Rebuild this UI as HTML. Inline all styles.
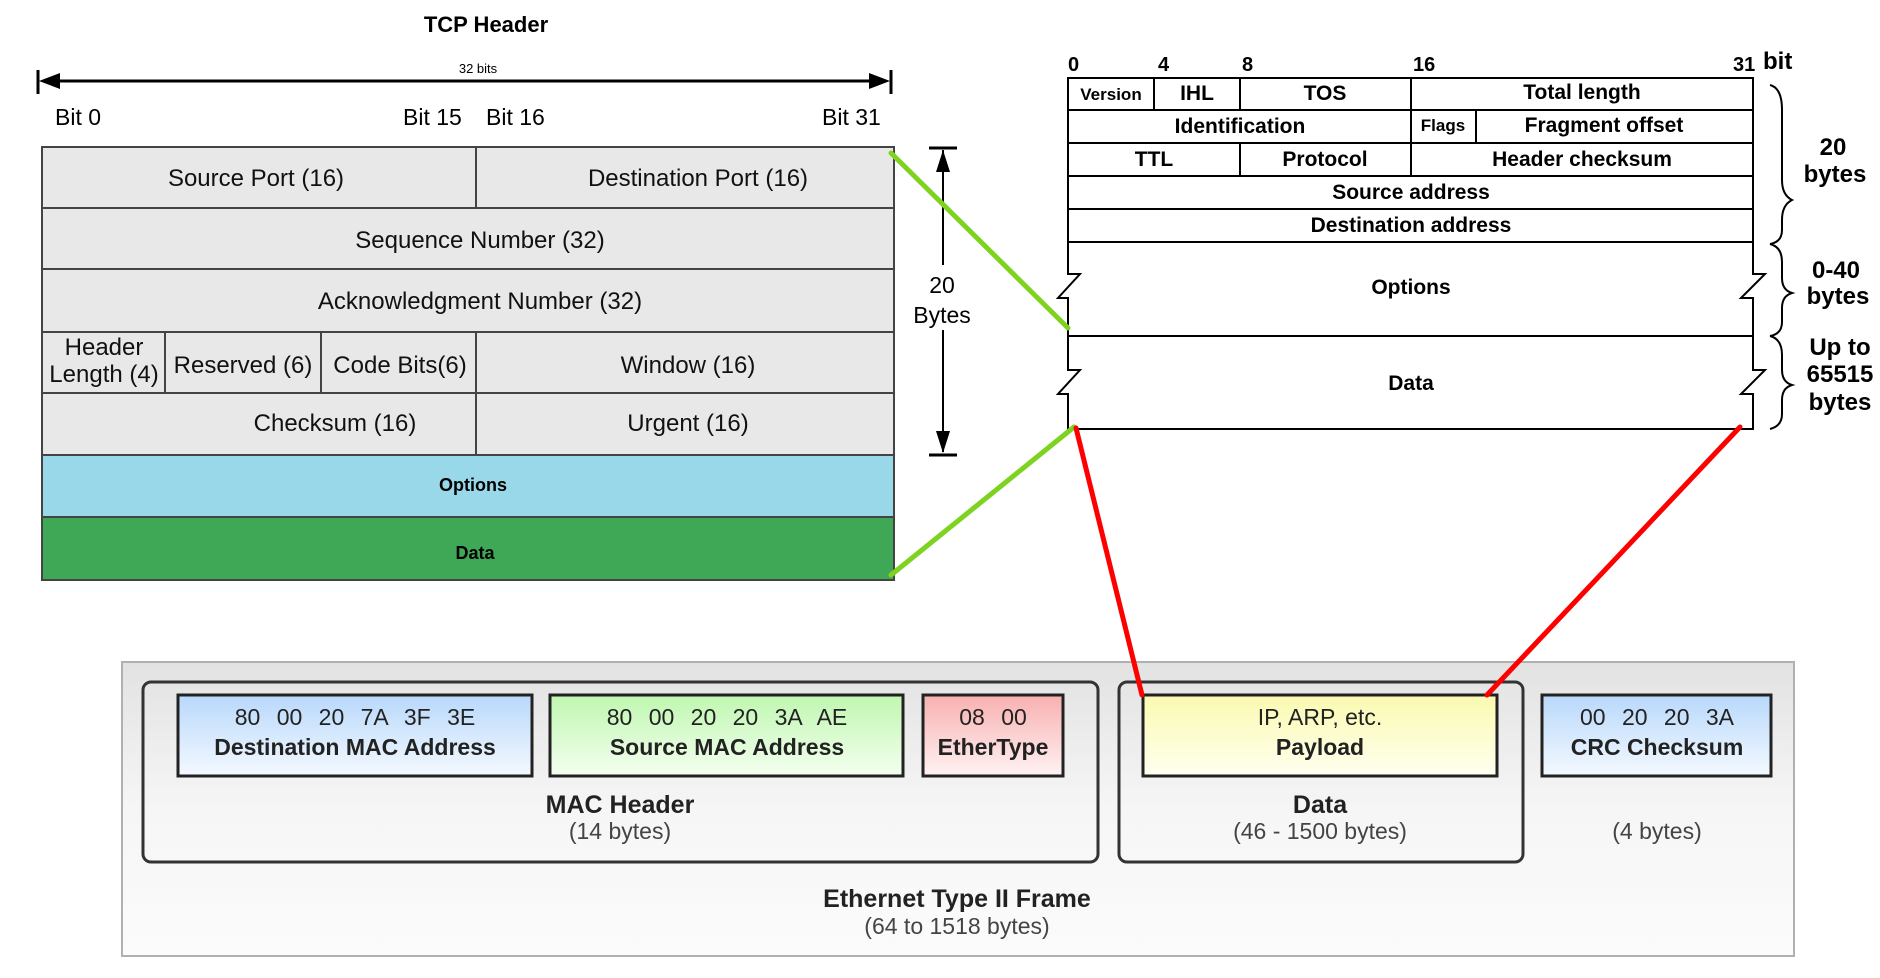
<!DOCTYPE html>
<html><head><meta charset="utf-8"><style>
html,body{margin:0;padding:0;background:#fff;width:1880px;height:978px;overflow:hidden}
svg{display:block}
</style></head><body>
<svg width="1880" height="978" viewBox="0 0 1880 978" xmlns="http://www.w3.org/2000/svg" font-family="Liberation Sans, sans-serif">
<defs>
<linearGradient id="fr" x1="0" y1="0" x2="0" y2="1"><stop offset="0" stop-color="#e2e2e2"/><stop offset="0.5" stop-color="#f6f6f6"/><stop offset="1" stop-color="#fbfbfb"/></linearGradient>
<linearGradient id="gb" x1="0" y1="0" x2="0" y2="1"><stop offset="0" stop-color="#b8d8fb"/><stop offset="1" stop-color="#f4f9ff"/></linearGradient>
<linearGradient id="gg" x1="0" y1="0" x2="0" y2="1"><stop offset="0" stop-color="#bff7b0"/><stop offset="1" stop-color="#f4fff0"/></linearGradient>
<linearGradient id="gr" x1="0" y1="0" x2="0" y2="1"><stop offset="0" stop-color="#f8b0b0"/><stop offset="1" stop-color="#fff2f2"/></linearGradient>
<linearGradient id="gy" x1="0" y1="0" x2="0" y2="1"><stop offset="0" stop-color="#fafab0"/><stop offset="1" stop-color="#fffff0"/></linearGradient>
</defs>

<!-- TCP header -->
<text x="486" y="32" font-size="22" font-weight="bold" text-anchor="middle">TCP Header</text>
<line x1="38" y1="70" x2="38" y2="94" stroke="#000" stroke-width="3"/>
<line x1="891" y1="70" x2="891" y2="94" stroke="#000" stroke-width="3"/>
<line x1="50" y1="81" x2="879" y2="81" stroke="#000" stroke-width="3"/>
<polygon points="39,81 60,73 60,89" fill="#000"/>
<polygon points="890,81 869,73 869,89" fill="#000"/>
<text x="478" y="73" font-size="13" text-anchor="middle">32 bits</text>
<g font-size="23">
<text x="55" y="125">Bit 0</text>
<text x="403" y="125">Bit 15</text>
<text x="486" y="125">Bit 16</text>
<text x="822" y="125">Bit 31</text>
</g>
<g stroke="#444" stroke-width="2">
<rect x="42" y="147" width="852" height="308" fill="#e8e8e8"/>
<rect x="42" y="455" width="852" height="62" fill="#99d8e8"/>
<rect x="42" y="517" width="852" height="63" fill="#3fa856"/>
<line x1="42" y1="208" x2="894" y2="208"/>
<line x1="42" y1="269" x2="894" y2="269"/>
<line x1="42" y1="332" x2="894" y2="332"/>
<line x1="42" y1="393" x2="894" y2="393"/>
<line x1="476" y1="147" x2="476" y2="208"/>
<line x1="476" y1="332" x2="476" y2="455"/>
<line x1="165" y1="332" x2="165" y2="393"/>
<line x1="321" y1="332" x2="321" y2="393"/>
</g>
<g font-size="24" text-anchor="middle" fill="#111">
<text x="256" y="186">Source Port (16)</text>
<text x="698" y="186">Destination Port (16)</text>
<text x="480" y="248">Sequence Number (32)</text>
<text x="480" y="309">Acknowledgment Number (32)</text>
<text x="104" y="355">Header</text>
<text x="104" y="382">Length (4)</text>
<text x="243" y="373">Reserved (6)</text>
<text x="400" y="373">Code Bits(6)</text>
<text x="688" y="373">Window (16)</text>
<text x="335" y="431">Checksum (16)</text>
<text x="688" y="431">Urgent (16)</text>
</g>
<text x="473" y="491" font-size="18" font-weight="bold" text-anchor="middle">Options</text>
<text x="475" y="559" font-size="18" font-weight="bold" text-anchor="middle">Data</text>

<!-- 20 bytes arrow -->
<line x1="929" y1="148" x2="957" y2="148" stroke="#000" stroke-width="3"/>
<line x1="929" y1="455" x2="957" y2="455" stroke="#000" stroke-width="3"/>
<line x1="943" y1="150" x2="943" y2="265" stroke="#000" stroke-width="2"/>
<line x1="943" y1="330" x2="943" y2="452" stroke="#000" stroke-width="2"/>
<polygon points="943,150 936,172 950,172" fill="#000"/>
<polygon points="943,453 936,431 950,431" fill="#000"/>
<text x="942" y="293" font-size="23" text-anchor="middle">20</text>
<text x="942" y="323" font-size="23" text-anchor="middle">Bytes</text>

<!-- IP header -->
<g font-family="Liberation Sans Narrow, Liberation Sans, sans-serif" font-weight="bold">
<g font-size="20">
<text x="1068" y="71">0</text><text x="1158" y="71">4</text><text x="1242" y="71">8</text>
<text x="1413" y="71">16</text><text x="1733" y="71">31</text>
<text x="1763" y="69" font-size="24">bit</text>
</g>
<g stroke="#000" stroke-width="2" fill="none">
<path d="M1068,78 V274 H1080 L1058,298 H1068 V370 H1080 L1058,394 H1068 V429 H1753 V394 H1741 L1765,370 H1753 V298 H1741 L1765,274 H1753 V78 Z"/>
<line x1="1068" y1="110" x2="1753" y2="110"/>
<line x1="1068" y1="143" x2="1753" y2="143"/>
<line x1="1068" y1="176" x2="1753" y2="176"/>
<line x1="1068" y1="209" x2="1753" y2="209"/>
<line x1="1068" y1="242" x2="1753" y2="242"/>
<line x1="1068" y1="336" x2="1753" y2="336"/>
<line x1="1154" y1="78" x2="1154" y2="110"/>
<line x1="1240" y1="78" x2="1240" y2="110"/>
<line x1="1240" y1="143" x2="1240" y2="176"/>
<line x1="1411" y1="78" x2="1411" y2="176"/>
<line x1="1476" y1="110" x2="1476" y2="143"/>
</g>
<g font-size="21" text-anchor="middle">
<text x="1111" y="100" font-size="17">Version</text>
<text x="1197" y="100">IHL</text>
<text x="1325" y="100">TOS</text>
<text x="1582" y="99">Total length</text>
<text x="1240" y="133">Identification</text>
<text x="1443" y="131" font-size="17">Flags</text>
<text x="1604" y="132">Fragment offset</text>
<text x="1154" y="166">TTL</text>
<text x="1325" y="166">Protocol</text>
<text x="1582" y="166">Header checksum</text>
<text x="1411" y="199">Source address</text>
<text x="1411" y="232">Destination address</text>
<text x="1411" y="294">Options</text>
<text x="1411" y="390">Data</text>
</g>
</g>
<!-- braces -->
<g stroke="#000" stroke-width="2" fill="none">
<path d="M1770,85 Q1782,88 1782,110 V180 Q1782,195 1792,200 Q1782,205 1782,220 V230 Q1782,242 1770,244"/>
<path d="M1770,244 Q1782,247 1782,262 V278 Q1782,290 1792,293 Q1782,296 1782,308 V322 Q1782,334 1770,336"/>
<path d="M1770,336 Q1782,339 1782,355 V370 Q1782,382 1792,385 Q1782,388 1782,400 V414 Q1782,426 1770,429"/>
</g>
<g font-family="Liberation Sans Narrow, Liberation Sans, sans-serif" font-size="24" font-weight="bold" text-anchor="middle">
<text x="1833" y="155">20</text><text x="1835" y="182">bytes</text>
<text x="1836" y="278">0-40</text><text x="1838" y="304">bytes</text>
<text x="1840" y="355">Up to</text><text x="1840" y="382">65515</text><text x="1840" y="410">bytes</text>
</g>

<!-- Ethernet frame -->
<rect x="122" y="662" width="1672" height="294" fill="url(#fr)" stroke="#b0b0b0" stroke-width="2"/>
<rect x="143" y="682" width="955" height="180" rx="8" fill="none" stroke="#333" stroke-width="3"/>
<rect x="1119" y="682" width="404" height="180" rx="8" fill="none" stroke="#333" stroke-width="3"/>
<g stroke="#222" stroke-width="3">
<rect x="178" y="695" width="354" height="81" fill="url(#gb)"/>
<rect x="550" y="695" width="353" height="81" fill="url(#gg)"/>
<rect x="923" y="695" width="140" height="81" fill="url(#gr)"/>
<rect x="1143" y="695" width="354" height="81" fill="url(#gy)"/>
<rect x="1542" y="695" width="229" height="81" fill="url(#gb)"/>
</g>
<g font-size="23" text-anchor="middle" fill="#222">
<text x="355" y="725" word-spacing="10">80 00 20 7A 3F 3E</text>
<text x="727" y="725" word-spacing="10">80 00 20 20 3A AE</text>
<text x="993" y="725" word-spacing="10">08 00</text>
<text x="1320" y="725">IP, ARP, etc.</text>
<text x="1657" y="725" word-spacing="10">00 20 20 3A</text>
<g font-weight="bold">
<text x="355" y="755">Destination MAC Address</text>
<text x="727" y="755">Source MAC Address</text>
<text x="993" y="755">EtherType</text>
<text x="1320" y="755">Payload</text>
<text x="1657" y="755">CRC Checksum</text>
<text x="620" y="813" font-size="25">MAC Header</text>
<text x="1320" y="813" font-size="25">Data</text>
<text x="957" y="907" font-size="25">Ethernet Type II Frame</text>
</g>
<text x="620" y="839" fill="#444">(14 bytes)</text>
<text x="1320" y="839" fill="#444">(46 - 1500 bytes)</text>
<text x="1657" y="839" fill="#444">(4 bytes)</text>
<text x="957" y="934" fill="#444">(64 to 1518 bytes)</text>
</g>

<!-- connectors -->
<g stroke-width="5" stroke-linecap="round">
<line x1="891" y1="153" x2="1068" y2="328" stroke="#7ed321"/>
<line x1="891" y1="575" x2="1074" y2="427" stroke="#7ed321"/>
<line x1="1076" y1="428" x2="1142" y2="695" stroke="#ff0000"/>
<line x1="1740" y1="427" x2="1487" y2="695" stroke="#ff0000"/>
</g>
</svg>
</body></html>
